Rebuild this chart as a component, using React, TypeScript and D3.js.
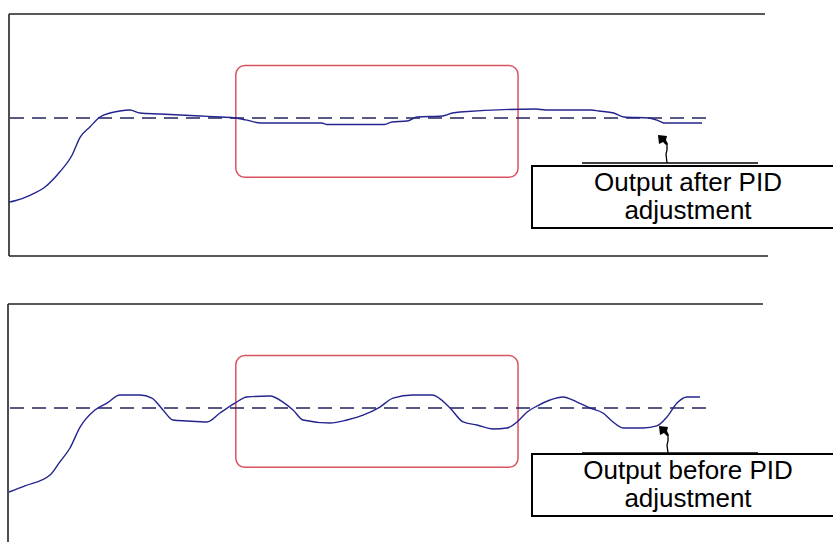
import React from "react";
import * as d3 from "d3";

// ---- data (time in samples, output in % of setpoint) ----
const timeDomain: [number, number] = [0, 300];
const valueDomain: [number, number] = [0, 175];
const setpoint = 100;
const setpointEnd = 279;

const afterT = [0, 2.4, 8.3, 14.3, 20.2, 25, 28.2, 32.1, 36.1, 40.1, 44, 48, 52, 60, 76, 84, 90, 94, 100, 124, 126, 149, 152, 158, 162, 172, 176, 179, 209, 213, 231, 234, 240, 244, 254, 258, 260, 275];
const afterV = [39, 40, 44, 50, 61, 73, 86, 93.5, 100.7, 103.6, 105.1, 105.8, 103.6, 102.9, 101.4, 100.7, 100, 98.6, 96.4, 96.4, 95.3, 95.3, 97.1, 97.8, 100.7, 101.4, 103.6, 104.3, 106.5, 105.8, 105.8, 105.1, 103.6, 100.7, 100, 97.8, 96.4, 96.4];

const beforeT = [0, 6.3, 16.3, 20.2, 24.2, 28.2, 34.1, 38.9, 44, 52, 56.7, 61.1, 65.1, 70.6, 78.6, 83.7, 89.7, 94.4, 103.6, 108.7, 112.7, 116.7, 127.4, 134.1, 140.5, 147.2, 152.4, 160.3, 167.9, 175, 180.2, 185.7, 192.1, 197.6, 201.6, 205.6, 209.5, 214.7, 219.8, 225.4, 230.6, 235.7, 239.7, 243.7, 251.6, 257.1, 261.1, 265.1, 269, 274.2];
const beforeV = [39.1, 43.5, 51.4, 60.9, 71, 86.2, 98.6, 103.6, 109.4, 109.4, 107.2, 98.6, 91.3, 90.6, 89.9, 96.4, 103.6, 108, 108.7, 104.3, 98.6, 91.3, 89.1, 91.3, 94.9, 100.7, 107.2, 109.4, 109.4, 100, 89.9, 87.7, 84.8, 85.5, 89.9, 97.1, 101.4, 105.8, 108, 104.3, 100, 96.4, 89.9, 85.5, 85.5, 87, 93.5, 103.6, 108, 108];

const highlightT: [number, number] = [90, 202];
const highlightV: [number, number] = [57, 138];

const labelAfter = ["Output after PID", "adjustment"];
const labelBefore = ["Output before PID", "adjustment"];

const W = 833;
const H = 542;

type PanelProps = {
  base: number;
  t: number[];
  v: number[];
  label: string[];
  boxTop: number;
  boxBottom: number;
  lineY: number;
  tipX: number;
  tipY: number;
  topRight: number;
  leftX: number;
  baseLineRight: number;
  showBase: boolean;
};

function Panel(p: PanelProps) {
  const x = d3.scaleLinear().domain(timeDomain).range([9, 765]);
  const y = d3.scaleLinear().domain(valueDomain).range([p.base, p.base - 241.5]);
  const pts: [number, number][] = p.t.map((tt, i) => [tt, p.v[i]]);
  const line = d3
    .line<[number, number]>()
    .x((d) => x(d[0]))
    .y((d) => y(d[1]))
    .curve(d3.curveMonotoneX);
  const top = p.base - 242;
  const rx0 = x(highlightT[0]);
  const rx1 = x(highlightT[1]);
  const ry0 = y(highlightV[1]);
  const ry1 = y(highlightV[0]);
  const tx = p.tipX;
  const ty = p.tipY;
  const arrow = [
    [tx, ty],
    [tx + 9, ty + 1],
    [tx + 8, ty + 5],
    [tx + 10, ty + 9],
    [tx + 8, ty + 10],
    [tx + 5, ty + 7],
    [tx + 1, ty + 9],
  ]
    .map((q) => q.join(","))
    .join(" ");
  const cx = 688;
  return (
    <g>
      <line x1={p.leftX} x2={p.topRight} y1={top} y2={top} stroke="#222" strokeWidth={1.6} />
      <line x1={p.leftX} x2={p.leftX} y1={top} y2={p.showBase ? p.base : H} stroke="#222" strokeWidth={1.6} />
      {p.showBase && (
        <line x1={p.leftX} x2={p.baseLineRight} y1={p.base} y2={p.base} stroke="#222" strokeWidth={1.6} />
      )}
      <rect
        x={rx0}
        y={ry0}
        width={rx1 - rx0}
        height={ry1 - ry0}
        rx={9}
        ry={9}
        fill="none"
        stroke="#d9535f"
        strokeWidth={1.5}
      />
      <line
        x1={x(0) + 1}
        x2={x(setpointEnd)}
        y1={y(setpoint)}
        y2={y(setpoint)}
        stroke="#23235e"
        strokeWidth={1.5}
        strokeDasharray="14 8"
      />
      <path d={line(pts) || ""} fill="none" stroke="#24248f" strokeWidth={1.4} />
      <polygon points={arrow} fill="#000" />
      <path
        d={`M${tx + 9},${ty + 9} L${tx + 9},${ty + 15} L${tx + 8},${ty + 19} L${tx + 9},${p.lineY}`}
        fill="none"
        stroke="#000"
        strokeWidth={1.3}
      />
      <line x1={582} x2={758} y1={p.lineY} y2={p.lineY} stroke="#000" strokeWidth={1.5} />
      <rect
        x={532}
        y={p.boxTop}
        width={W - 532 + 4}
        height={p.boxBottom - p.boxTop}
        fill="#fff"
        stroke="#000"
        strokeWidth={2}
      />
      <text
        x={cx}
        y={p.boxTop + 25}
        textAnchor="middle"
        fontFamily="'Liberation Sans', Arial, sans-serif"
        fontSize={26}
        fill="#000"
      >
        {p.label[0]}
      </text>
      <text
        x={cx}
        y={p.boxTop + 53}
        textAnchor="middle"
        fontFamily="'Liberation Sans', Arial, sans-serif"
        fontSize={26}
        fill="#000"
      >
        {p.label[1]}
      </text>
    </g>
  );
}

export default function App() {
  return (
    <svg
      width={W}
      height={H}
      viewBox={`0 0 ${W} ${H}`}
      style={{ position: "absolute", left: 0, top: 0, background: "#fff" }}
    >
      <rect x={0} y={0} width={W} height={H} fill="#fff" />
      <Panel
        base={256}
        t={afterT}
        v={afterV}
        label={labelAfter}
        boxTop={166}
        boxBottom={228}
        lineY={163}
        tipX={658}
        tipY={135}
        topRight={765}
        leftX={9}
        baseLineRight={768}
        showBase={true}
      />
      <Panel
        base={546}
        t={beforeT}
        v={beforeV}
        label={labelBefore}
        boxTop={454}
        boxBottom={516}
        lineY={453}
        tipX={659}
        tipY={426}
        topRight={763}
        leftX={8}
        baseLineRight={768}
        showBase={false}
      />
    </svg>
  );
}
